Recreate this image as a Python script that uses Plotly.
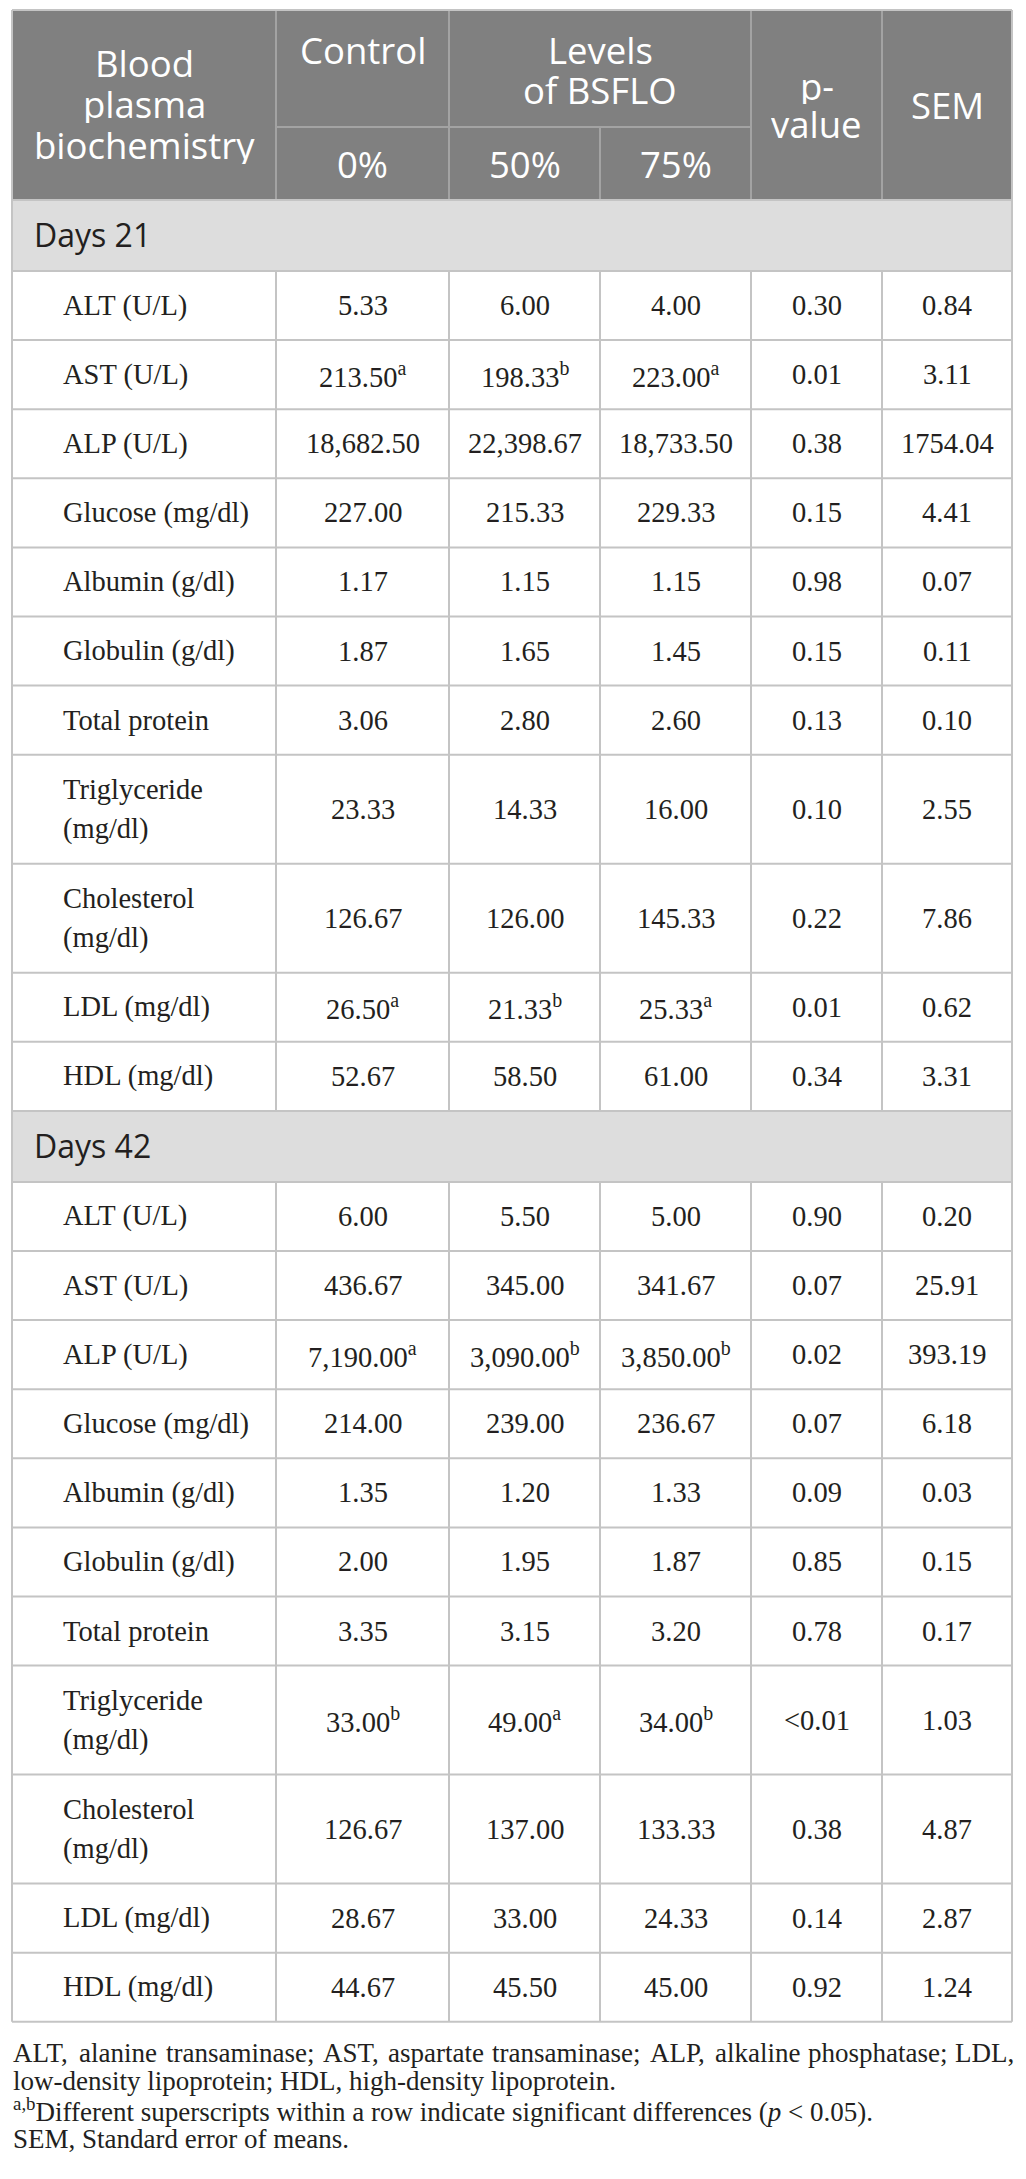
import plotly.graph_objects as go

# ---------------- data ----------------
header_top = ["Blood<br>plasma<br>biochemistry", "Control", "Levels<br>of BSFLO", "p-<br>value", "SEM"]
header_sub = ["0%", "50%", "75%"]

sections = ["Days 21", "Days 42"]

labels = ["ALT (U/L)", "AST (U/L)", "ALP (U/L)", "Glucose (mg/dl)", "Albumin (g/dl)",
          "Globulin (g/dl)", "Total protein", "Triglyceride<br>(mg/dl)",
          "Cholesterol<br>(mg/dl)", "LDL (mg/dl)", "HDL (mg/dl)"]

d21_control = ["5.33", "213.50", "18,682.50", "227.00", "1.17", "1.87", "3.06", "23.33", "126.67", "26.50", "52.67"]
d21_bsflo50 = ["6.00", "198.33", "22,398.67", "215.33", "1.15", "1.65", "2.80", "14.33", "126.00", "21.33", "58.50"]
d21_bsflo75 = ["4.00", "223.00", "18,733.50", "229.33", "1.15", "1.45", "2.60", "16.00", "145.33", "25.33", "61.00"]
d21_pvalue = ["0.30", "0.01", "0.38", "0.15", "0.98", "0.15", "0.13", "0.10", "0.22", "0.01", "0.34"]
d21_sem = ["0.84", "3.11", "1754.04", "4.41", "0.07", "0.11", "0.10", "2.55", "7.86", "0.62", "3.31"]
d21_sup_control = ["", "a", "", "", "", "", "", "", "", "a", ""]
d21_sup_bsflo50 = ["", "b", "", "", "", "", "", "", "", "b", ""]
d21_sup_bsflo75 = ["", "a", "", "", "", "", "", "", "", "a", ""]

d42_control = ["6.00", "436.67", "7,190.00", "214.00", "1.35", "2.00", "3.35", "33.00", "126.67", "28.67", "44.67"]
d42_bsflo50 = ["5.50", "345.00", "3,090.00", "239.00", "1.20", "1.95", "3.15", "49.00", "137.00", "33.00", "45.50"]
d42_bsflo75 = ["5.00", "341.67", "3,850.00", "236.67", "1.33", "1.87", "3.20", "34.00", "133.33", "24.33", "45.00"]
d42_pvalue = ["0.90", "0.07", "0.02", "0.07", "0.09", "0.85", "0.78", "&lt;0.01", "0.38", "0.14", "0.92"]
d42_sem = ["0.20", "25.91", "393.19", "6.18", "0.03", "0.15", "0.17", "1.03", "4.87", "2.87", "1.24"]
d42_sup_control = ["", "", "a", "", "", "", "", "b", "", "", ""]
d42_sup_bsflo50 = ["", "", "b", "", "", "", "", "a", "", "", ""]
d42_sup_bsflo75 = ["", "", "b", "", "", "", "", "b", "", "", ""]

footnotes = [
    "ALT, alanine transaminase; AST, aspartate transaminase; ALP, alkaline phosphatase; LDL,",
    "low-density lipoprotein; HDL, high-density lipoprotein.",
    "<sup>a,b</sup>Different superscripts within a row indicate significant differences (<i>p</i> &lt; 0.05).",
    "SEM, Standard error of means.",
]
footnote_justified = [True, False, False, False]

# ---------------- layout constants ----------------
W, H = 1026, 2179
X = [12, 276, 449, 600, 751, 882, 1012]
FOOT_RIGHT = 1015
HEAD_TOP, HEAD_MID, HEAD_BOT = 10, 127, 200
SEC_H, ROW1_H, ROW2_H = 71, 69.1, 109

HEAD_BG = "#808080"
HEAD_LINE = "#a3a3a3"
SEC_BG = "#dddddd"
GRID = "#c4c4c4"
TXT = "#231f20"
SANS = "Open Sans"
SERIF = "Liberation Serif"
HFS = 36.5
BFS = 28.5
FFS = 27

# approximate Times/Liberation Serif advance widths (per 1000 em), used only to justify a line
TW = {" ": 250, ",": 250, ";": 278, ".": 250, "-": 333, "A": 722, "L": 611, "T": 611, "S": 556,
      "P": 556, "D": 722, "H": 722, "a": 444, "l": 278, "n": 500, "i": 278, "e": 444, "t": 278,
      "r": 333, "s": 389, "m": 778, "p": 500, "h": 500, "k": 500, "o": 500, "c": 444, "y": 500}

shapes = []
annots = []


def rect(x0, y0, x1, y1, fill):
    shapes.append(dict(type="rect", xref="x", yref="y", x0=x0, y0=y0, x1=x1, y1=y1,
                       fillcolor=fill, line=dict(width=0), layer="below"))


def line(x0, y0, x1, y1, color, w=2):
    shapes.append(dict(type="line", xref="x", yref="y", x0=x0, y0=y0, x1=x1, y1=y1,
                       line=dict(color=color, width=w)))


def text(x, y, s, size, font, color=TXT, xanchor="center", h=None):
    a = dict(x=x, y=y, xref="x", yref="y", text=s, showarrow=False,
             xanchor=xanchor, yanchor="middle", align="left" if xanchor == "left" else "center",
             borderpad=0, font=dict(family=font, size=size, color=color))
    if h is not None:
        a["height"] = h
    annots.append(a)


def cx(i):
    return (X[i] + X[i + 1]) / 2


def multiline(x, yc, s, size, font, color, spacing, xanchor="center"):
    parts = s.split("<br>")
    n = len(parts)
    for k, p in enumerate(parts):
        text(x, yc + (k - (n - 1) / 2) * spacing, p, size, font, color, xanchor,
             h=spacing - 2 if n > 1 else None)


# ---------------- header ----------------
rect(X[0], HEAD_TOP, X[-1], HEAD_BOT, HEAD_BG)
for i in range(1, 6):
    if i == 3:
        line(X[i], HEAD_MID, X[i], HEAD_BOT, HEAD_LINE)
    else:
        line(X[i], HEAD_TOP, X[i], HEAD_BOT, HEAD_LINE)
line(X[1], HEAD_MID, X[4], HEAD_MID, HEAD_LINE)

HS = 41
hy_full = (HEAD_TOP + HEAD_BOT) / 2 - 2
multiline(cx(0), hy_full, header_top[0], HFS, SANS, "white", HS)
multiline(cx(1), 50, header_top[1], HFS, SANS, "white", HS)
multiline((X[2] + X[4]) / 2, 70, header_top[2], HFS, SANS, "white", HS - 1)
multiline(cx(4), hy_full + 2, header_top[3], HFS, SANS, "white", 38)
multiline(cx(5), hy_full + 2, header_top[4], HFS, SANS, "white", HS)
sub_y = 164
text(cx(1), sub_y, header_sub[0], HFS, SANS, "white")
text(cx(2), sub_y, header_sub[1], HFS, SANS, "white")
text(cx(3), sub_y, header_sub[2], HFS, SANS, "white")


# ---------------- body ----------------
def fmt(v, s):
    return v + ("<sup>" + s + "</sup>" if s else "")


blocks = [
    (sections[0], d21_control, d21_bsflo50, d21_bsflo75, d21_pvalue, d21_sem,
     d21_sup_control, d21_sup_bsflo50, d21_sup_bsflo75),
    (sections[1], d42_control, d42_bsflo50, d42_bsflo75, d42_pvalue, d42_sem,
     d42_sup_control, d42_sup_bsflo50, d42_sup_bsflo75),
]

y = HEAD_BOT
hlines = [y]
for (sec, c0, c1, c2, pv, sem, s0, s1, s2) in blocks:
    rect(X[0], y, X[-1], y + SEC_H, SEC_BG)
    text(33, y + SEC_H / 2 - 1, sec, 32, SANS, TXT, xanchor="left")
    y += SEC_H
    hlines.append(y)
    for r, lab in enumerate(labels):
        h = ROW2_H if "<br>" in lab else ROW1_H
        yc = y + h / 2
        for i in range(1, 6):
            line(X[i], y, X[i], y + h, GRID)
        multiline(62, yc, lab, BFS, SERIF, TXT, 40, xanchor="left")
        text(cx(1), yc, fmt(c0[r], s0[r]), BFS, SERIF)
        text(cx(2), yc, fmt(c1[r], s1[r]), BFS, SERIF)
        text(cx(3), yc, fmt(c2[r], s2[r]), BFS, SERIF)
        text(cx(4), yc, pv[r], BFS, SERIF)
        text(cx(5), yc, sem[r], BFS, SERIF)
        y += h
        hlines.append(y)

for yy in hlines:
    line(X[0], yy, X[-1], yy, GRID)
line(X[0], HEAD_TOP, X[0], y, GRID)
line(X[-1], HEAD_TOP, X[-1], y, GRID)
line(X[0], HEAD_TOP, X[-1], HEAD_TOP, GRID)


# ---------------- footnotes ----------------
def est_width(s, size):
    return sum(TW.get(ch, 500) for ch in s) * size / 1000.0


fy = y + 31
for k, fn in enumerate(footnotes):
    yy = fy + k * 28.6
    if footnote_justified[k]:
        words = fn.split(" ")
        ws = [est_width(w, FFS) for w in words]
        total = FOOT_RIGHT - X[0]
        gap = (total - sum(ws)) / (len(words) - 1)
        pos = X[0]
        for j, (w, wd) in enumerate(zip(words, ws)):
            if j == 0:
                text(X[0], yy, w, FFS, SERIF, TXT, xanchor="left")
            elif j == len(words) - 1:
                text(FOOT_RIGHT, yy, w, FFS, SERIF, TXT, xanchor="right")
            else:
                text(pos + wd / 2, yy, w, FFS, SERIF, TXT, xanchor="center")
            pos += wd + gap
    else:
        text(X[0], yy, fn, FFS, SERIF, TXT, xanchor="left")

fig = go.Figure()
fig.update_layout(
    width=W, height=H, autosize=False,
    margin=dict(l=0, r=0, t=0, b=0),
    paper_bgcolor="white", plot_bgcolor="white",
    xaxis=dict(range=[0, W], visible=False, fixedrange=True),
    yaxis=dict(range=[H, 0], visible=False, fixedrange=True),
    shapes=shapes, annotations=annots, showlegend=False,
)
fig.write_html("out.html", config={"displayModeBar": False, "staticPlot": True},
               post_script="document.body.style.margin='0';")
